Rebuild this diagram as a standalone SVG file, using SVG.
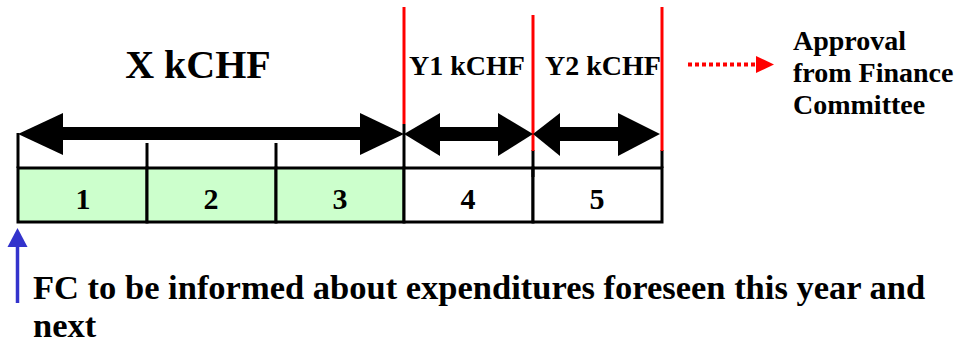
<svg xmlns="http://www.w3.org/2000/svg" width="963" height="345" viewBox="0 0 963 345">
<style>
.t{font-family:'Liberation Serif','DejaVu Serif',serif;font-weight:700;fill:#000}
.cell{stroke:#000;stroke-width:3}
.green{fill:#ccffcc}
.white{fill:#fff}
.tick{stroke:#000;stroke-width:3}
.red{stroke:#ff0000;stroke-width:3}
.num{font-size:30px;text-anchor:middle}
</style>
<rect width="963" height="345" fill="#fff"/>
<g id="cells">
<g id="cell1"><rect class="cell green" x="18" y="168" width="129" height="54"/><text class="t num" x="83" y="209">1</text></g>
<g id="cell2"><rect class="cell green" x="147" y="168" width="129" height="54"/><text class="t num" x="211" y="209">2</text></g>
<g id="cell3"><rect class="cell green" x="276" y="168" width="128" height="54"/><text class="t num" x="340" y="209">3</text></g>
<g id="cell4"><rect class="cell white" x="404" y="168" width="129" height="54"/><text class="t num" x="468" y="209">4</text></g>
<g id="cell5"><rect class="cell white" x="533" y="168" width="129" height="54"/><text class="t num" x="597" y="209">5</text></g>
</g>
<g id="ticks">
<line class="tick" x1="18" y1="133" x2="18" y2="168"/>
<line class="tick" x1="147" y1="143" x2="147" y2="168"/>
<line class="tick" x1="276" y1="143" x2="276" y2="168"/>
<line class="tick" x1="404" y1="124" x2="404" y2="168"/>
<line class="tick" x1="533" y1="150" x2="533" y2="177"/>
<line class="tick" x1="662" y1="150" x2="662" y2="168"/>
<line class="red" x1="404" y1="7" x2="404" y2="124"/>
<line class="red" x1="533" y1="15" x2="533" y2="151"/>
<line class="red" x1="662" y1="7" x2="662" y2="151"/>
</g>
<g id="connectors">
<g id="arrowX" fill="#000">
<rect x="60" y="127" width="303" height="13"/>
<polygon points="18,134 63,113 63,155"/>
<polygon points="404,134 360,113 360,155"/>
</g>
<g id="arrowY1" fill="#000">
<rect x="438" y="127" width="62" height="14"/>
<polygon points="404,134 440,113 440,156"/>
<polygon points="533,134 498,113 498,156"/>
</g>
<g id="arrowY2" fill="#000">
<rect x="558" y="127" width="62" height="14"/>
<polygon points="533,134 560,113 560,156"/>
<polygon points="660,134 618,113 618,156"/>
</g>
<g id="approvalArrow">
<line x1="688" y1="64.5" x2="757" y2="64.5" stroke="#ff0000" stroke-width="4" stroke-dasharray="4,3"/>
<polygon points="756,56 774,64.5 756,73" fill="#ff0000"/>
</g>
<g id="fcArrow">
<line x1="17.5" y1="244" x2="17.5" y2="303" stroke="#3333cc" stroke-width="3.5"/>
<polygon points="17.5,228 27.5,247 7.5,247" fill="#3333cc"/>
</g>
</g>
<g id="labelX"><text class="t" x="198" y="78" font-size="40" text-anchor="middle">X kCHF</text></g>
<g id="labelY1"><text class="t" x="467" y="75" font-size="28" text-anchor="middle">Y1 kCHF</text></g>
<g id="labelY2"><text class="t" x="603" y="75" font-size="28" text-anchor="middle">Y2 kCHF</text></g>
<g id="approval">
<text class="t" x="793" y="50" font-size="28">Approval</text>
<text class="t" x="793" y="82" font-size="28">from Finance</text>
<text class="t" x="793" y="114" font-size="28">Committee</text>
</g>
<g id="fcNote">
<text class="t" x="33" y="299" font-size="34.5">FC to be informed about expenditures foreseen this year and</text>
<text class="t" x="33" y="337" font-size="34.5">next</text>
</g>
</svg>
